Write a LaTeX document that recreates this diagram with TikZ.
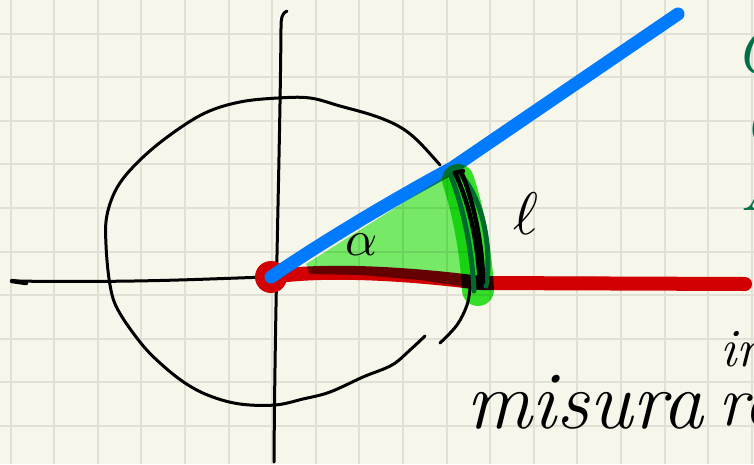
\documentclass[tikz,border=0pt]{standalone}
\usepackage{amsmath}
\usepackage{tikz}
\usetikzlibrary{calc}
\definecolor{PaperCream}{RGB}{247,246,235}
\definecolor{GridGray}{RGB}{224,224,212}
\definecolor{RayRed}{RGB}{210,0,0}
\definecolor{RayBlue}{RGB}{0,122,255}
\definecolor{SectorGreen}{RGB}{122,242,112}
\definecolor{BrightGreen}{RGB}{55,232,45}
\definecolor{ArcGreen}{RGB}{0,105,45}
\definecolor{NoteGreen}{RGB}{0,112,72}
\tikzset{
  gridline/.style={draw=GridGray,line width=2pt},
  handline/.style={draw=black,line width=3pt,line cap=round,line join=round},
  redray/.style={draw=RayRed,line width=14pt,line cap=round,line join=round},
  blueray/.style={draw=RayBlue,line width=13pt,line cap=round,line join=round},
  sectorfill/.style={fill=SectorGreen,draw=none},
  arcglow/.style={draw=BrightGreen,line width=32pt,line cap=round},
  arcmark/.style={draw=ArcGreen,line width=5pt,line cap=round},
  arcink/.style={draw=black,line width=4.5pt,line cap=round},
  inklabel/.style={inner sep=0pt,text=black},
  greennote/.style={inner sep=0pt,text=NoteGreen,font=\fontsize{64}{64}\selectfont\itshape}
}
\begin{document}
\begin{tikzpicture}[x=1pt,y=-1pt]
\useasboundingbox (0,0) rectangle (754,464);
\clip (0,0) rectangle (754,464);
\fill[PaperCream] (0,0) rectangle (754,464);
% squared paper
\foreach \k in {0,...,17} \draw[gridline] ({10.5+43.6*\k},0) -- ({10.5+43.6*\k},464);
\foreach \k in {0,...,9} \draw[gridline] (0,{33.5+43.6*\k}) -- (754,{33.5+43.6*\k});

\coordinate (O) at (271,277);
\coordinate (L) at (12,281);
\coordinate (E) at (706,279);
\coordinate (T) at (287,11);
\coordinate (B) at (274,462);
\coordinate (R) at (745,284);
\coordinate (P) at (678,14);

% axes
\draw[handline] (L) .. controls (150,283) and (220,278) .. (O) -- (E);
\draw[handline,line width=4.5pt] (L) -- (26,283);
\draw[handline] (T) .. controls (282,13) and (281,18) .. (281,28) .. controls (280,150) and (275,300) .. (B);

% circle
\draw[handline] plot[smooth,tension=0.6] coordinates {(440,165) (418,141) (400,127) (375,116) (340,106) (310,98) (278,98) (240,102) (205,113) (170,135) (140,160) (118,186) (107,215) (106,245) (110,285) (118,310) (140,342) (160,363) (185,383) (210,396) (240,404) (275,405) (303,399) (330,392) (363,377) (392,365) (410,350) (425,336)};
\draw[handline] plot[smooth,tension=0.6] coordinates {(440,343) (457,325) (467,305) (470,288)};

% rays
\draw[redray] (O) .. controls (330,268) and (420,275) .. (480,283) -- (R);
\fill[RayRed] (O) circle (16);
\draw[blueray] (O) .. controls (340,230) and (420,185) .. (452,168) -- (P);

% angle sector
\begin{scope}[blend mode=multiply]
\fill[sectorfill] (306,264) -- (452,172) .. controls (470,205) and (482,245) .. (486,290) -- (420,280) -- (360,275) -- (310,274) -- cycle;
\draw[arcglow] (458,180) .. controls (468,210) and (476,250) .. (478,290);
\end{scope}
\draw[arcmark] (458,172) .. controls (484,198) and (492,250) .. (486,286);
\draw[arcmark] (451,176) .. controls (464,210) and (472,250) .. (474,291);
\draw[arcink] (455,173) .. controls (468,200) and (478,240) .. (480,286);
\draw[arcink] (462,174) .. controls (475,205) and (483,250) .. (483,282);
\draw[arcink] (455,173) -- (463,171);

% labels
\node[inklabel,scale=6] (ell) at (526,214) {$\ell$};
\node[inklabel,scale=5] (alpha) at (362,245) {$\alpha$};
\node[inklabel,anchor=base west,font=\fontsize{82}{82}\selectfont\itshape] (misura) at (466,428) {misura};
\node[inklabel,anchor=base west,font=\fontsize{54}{54}\selectfont\itshape] (in) at (720,366) {in};
\node[inklabel,anchor=base west,font=\fontsize{72}{72}\selectfont\itshape] (ra) at (718,425) {ra};

% notes at the right edge
\node[greennote,anchor=base west] (n1) at (735,73) {C};
\node[greennote,anchor=base west] (n2) at (743,145) {C};
\node[greennote,anchor=base west] (n3) at (740,210) {A};
\end{tikzpicture}
\end{document}
